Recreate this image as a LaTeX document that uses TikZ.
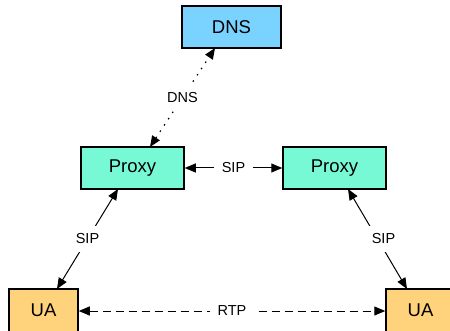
\documentclass[tikz,border=0pt]{standalone}
\usepackage{fontspec}
\setmainfont{Liberation Sans}
\usetikzlibrary{arrows.meta}
\definecolor{dnsblue}{HTML}{7AD3FE}
\definecolor{proxygreen}{HTML}{78F9D6}
\definecolor{uaorange}{HTML}{FFD27C}
\tikzset{
  box/.style={draw=black, line width=1.5pt, minimum height=42pt, inner sep=0pt, font=\fontsize{18.5}{20}\selectfont},
  lbl/.style={fill=white, inner sep=8pt, font=\fontsize{14.5}{16}\selectfont},
  biarrow/.style={{Triangle[length=11pt,width=9pt]}-{Triangle[length=11pt,width=9pt]}, line width=1pt},
}
\begin{document}
\begin{tikzpicture}[x=1pt,y=-1pt]
\useasboundingbox (0,0) rectangle (450,331);
\node[box, fill=dnsblue, minimum width=99pt] (dns) at (231.5,27) {DNS};
\node[box, fill=proxygreen, minimum width=103pt] (pl) at (132.5,168) {Proxy};
\node[box, fill=proxygreen, minimum width=103pt] (pr) at (334.5,168) {Proxy};
\node[box, fill=uaorange, minimum width=69pt, minimum height=46pt] (ual) at (43.5,312) {\raisebox{3pt}{UA}};
\node[box, fill=uaorange, minimum width=69pt, minimum height=46pt] (uar) at (420.5,312) {\raisebox{3pt}{UA}};
\coordinate (plt) at (150,147);
\coordinate (dnsb) at (215,48);
\coordinate (plb) at (118,189);
\coordinate (ualt) at (57,289);
\coordinate (prb) at (348,189);
\coordinate (uart) at (407,289);
\draw[biarrow, dash pattern=on 1.5pt off 6pt, line width=1.2pt] (plt) -- node[lbl] {DNS} (dnsb);
\draw[biarrow] (pl.east) -- node[lbl] {SIP} (pr.west);
\draw[biarrow] (ualt) -- node[lbl] {SIP} (plb);
\draw[biarrow] (prb) -- node[lbl, xshift=6pt] {SIP} (uart);
\draw[biarrow, dash pattern=on 8pt off 5pt] (ual.east |- 0,311) -- node[lbl] {RTP} (uar.west |- 0,311);
\end{tikzpicture}
\end{document}
